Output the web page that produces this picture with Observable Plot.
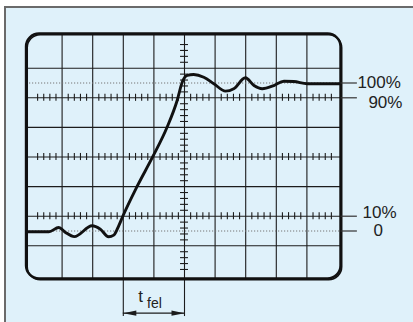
<!DOCTYPE html>
<html><head><meta charset="utf-8">
<script src="https://cdn.jsdelivr.net/npm/d3@7"></script>
<script src="https://cdn.jsdelivr.net/npm/@observablehq/plot@0.6"></script>
<style>
html,body{margin:0;padding:0;background:#fff;}
#chart{width:413px;height:322px;background:#dff1fa;box-shadow:inset 4px 6px 0 #fff, inset 6px 8px 0 #6a6a6a;overflow:hidden;}
#chart svg{display:block;}
</style></head><body><div id="chart"></div>
<script>
// waveform: time in screen divisions, level in percent of the step
const timeDiv = [-5.13, -4.43, -4.11, -3.9, -3.6, -3.02, -2.75, -2.48, -2.31, -2.15, -2.02, -1.55, -1.05, -0.57, -0.24, -0.075, 0.09, 0.30, 0.63, 0.96, 1.34, 1.61, 1.99, 2.27, 2.54, 2.92, 3.25, 3.57, 4.01, 5.1];
const levelPct = [-0.5, -0.5, 2.4, -0.8, -3.8, 3.5, 1.2, -3.9, -2.8, 3.5, 9.8, 30.1, 49.7, 70.1, 88.2, 100.5, 105.1, 105.7, 103.9, 99.5, 94.5, 96.1, 103.5, 98.3, 96.1, 98.3, 101.2, 101.0, 99.5, 99.5];
// graticule
const gridX = [-4, -3, -2, -1, 0, 1, 2, 3, 4];
const gridY = [-10, 10, 30, 50, 70, 90, 110];
const dottedLevels = [0, 100];
const tickedLevels = [10, 50, 90];
const labelLevels = [100, 90, 10, 0];
const labelTexts = ["100%", "90%", "10%", "0"];
const riseTime = [-2, 0];
const riseLabel = ["t", "fel"];

// screen geometry (in scale units)
const X0 = -5.163, X1 = 5.114, Y0 = -32.4, Y1 = 133.1;
const ink = "#1c1c1c";

const hTicks = [];
for (const lv of tickedLevels)
  for (let k = -5; k < 5; k++)
    for (const f of [0.2, 0.4, 0.6, 0.8]) hTicks.push({x: k + f, y: lv});
const vTicks = [];
for (let k = -4; k < 4; k++)
  for (const f of [0.2, 0.4, 0.6, 0.8]) vTicks.push((k + f) * 20 + 50);

const wave = timeDiv.map((t, i) => ({t, v: levelPct[i]}));
const labelX = [5.65, 6.01, 5.82, 6.18];
const labelDy = [0, -3.5, 2.7, 0];
const labels = labelLevels.map((lv, i) => ({x: labelX[i], y: lv + labelDy[i], text: labelTexts[i]}));

const headRight = {draw(ctx){ctx.moveTo(0,0);ctx.lineTo(-13,-2.6);ctx.lineTo(-13,2.6);ctx.closePath();}};
const headLeft = {draw(ctx){ctx.moveTo(0,0);ctx.lineTo(13,-2.6);ctx.lineTo(13,2.6);ctx.closePath();}};

const yArrow = -55.5, yDimEnd = -57.8;

const chart = Plot.plot({
  width: 413, height: 322,
  marginLeft: 31, marginRight: 76, marginTop: 38.1, marginBottom: 47.1,
  style: {background: "transparent", fontFamily: "'Liberation Sans', Arial, sans-serif", color: "#222", overflow: "visible"},
  x: {domain: [-5, 5], axis: null},
  y: {domain: [-30, 130], axis: null},
  marks: [
    Plot.ruleX(gridX, {y1: Y0, y2: Y1, stroke: ink, strokeWidth: 1.1}),
    Plot.ruleX(riseTime, {y1: Y0, y2: yDimEnd, stroke: ink, strokeWidth: 1.1}),
    Plot.ruleY(gridY, {x1: X0, x2: X1, stroke: ink, strokeWidth: 1.1}),
    Plot.ruleY(dottedLevels, {x1: X0, x2: X1, stroke: "#777", strokeWidth: 1, strokeDasharray: "1.2,1.8"}),
    Plot.ruleX(hTicks, {x: "x", y1: d => d.y - 2.4, y2: d => d.y + 2.4, stroke: ink, strokeWidth: 1.1}),
    Plot.ruleY(vTicks, {x1: -0.13, x2: 0.13, stroke: ink, strokeWidth: 1.1}),
    Plot.line(wave, {x: "t", y: "v", curve: "monotone-x", stroke: "#111", strokeWidth: 2.9, strokeLinejoin: "round", strokeLinecap: "round"}),
    Plot.rect([0], {x1: X0, x2: X1, y1: Y0, y2: Y1, rx: 13, fill: "none", stroke: "#111", strokeWidth: 2.4}),
    Plot.rect([0], {x1: X0, x2: X1, y1: Y0, y2: Y1, rx: 13, fill: "none", stroke: "#111", strokeWidth: 1.6, dx: 1.2, dy: 1.2}),
    Plot.ruleY(labelLevels, {x1: X1, x2: 5.65, stroke: "#333", strokeWidth: 1.2}),
    Plot.text(labels, {x: "x", y: "y", text: "text", textAnchor: "start", fontSize: 17, fill: "#222"}),
    Plot.ruleY([yArrow], {x1: riseTime[0], x2: riseTime[1], stroke: ink, strokeWidth: 1.2}),
    Plot.dot([riseTime[0]], {x: d => d, y: yArrow, symbol: headLeft, fill: ink, stroke: "none"}),
    Plot.dot([riseTime[1]], {x: d => d, y: yArrow, symbol: headRight, fill: ink, stroke: "none"}),
    Plot.text([riseLabel[0]], {x: -1.51, y: -44.0, text: d => d, textAnchor: "start", fontSize: 17, fill: "#222"}),
    Plot.text([riseLabel[1]], {x: -1.225, y: -49.1, text: d => d, textAnchor: "start", fontSize: 14, fill: "#222"})
  ]
});
document.getElementById("chart").appendChild(chart);
</script></body></html>
